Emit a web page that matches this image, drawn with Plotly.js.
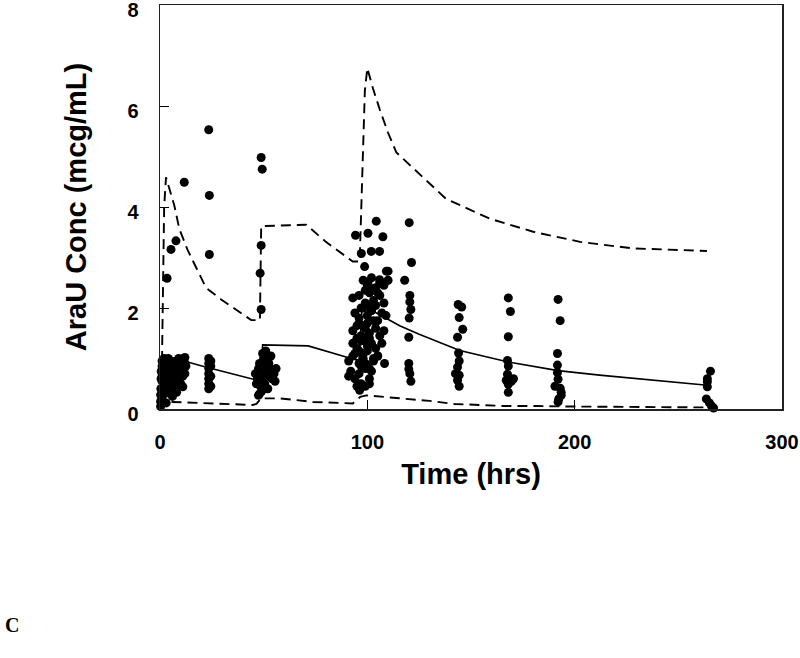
<!DOCTYPE html>
<html>
<head>
<meta charset="utf-8">
<script src="https://cdn.plot.ly/plotly-3.0.1.min.js"></script>
<style>html,body{margin:0;padding:0;background:#fff;}#chart{width:800px;height:658px;}</style>
</head>
<body>
<div id="chart"></div>
<script>
// Observed concentrations (time in hrs, conc in mcg/mL)
const obsTime = [
  // early outliers
  11.7, 23.5, 23.8, 7.7, 5.3, 23.8, 3.4,
  // early low blob
  0.3, 0.3, 0.3, 1, 1, 1, 1, 1, 1, 2, 2, 2, 2, 2, 3, 3, 3, 3, 3, 4, 4, 4, 4,
  5, 5, 5, 5, 6, 6, 6, 6, 7, 7, 7, 8, 8, 8, 8, 10, 10, 10, 11, 11, 11, 11, 12, 12, 12,
  0.5, 1.5, 2.5, 3.5, 4.5, 6.5, 9, 9, 12.5, 0.4, 0.6,
  // 24 h column
  23.5, 23.5, 23.5, 23.5, 23.5, 23.5, 23.5, 24.5, 24.5, 24.5, 24.5,
  // 48 h
  48.8, 49.3, 48.8, 48.3, 48.8,
  48, 48.5, 47, 46, 49, 49.5, 50, 50, 51, 51.5, 52, 52, 53, 53.5, 54, 55, 55.5, 49, 50.5, 48, 46.5, 47.5,
  50, 51, 47.5, 52.5, 49.5, 56,
  // ~100 h outliers
  104.3, 94.3, 100.3, 107.5, 97.1, 101.9, 105.9, 98.7, 110, 100.3, 105.9, 109.2, 108.3, 96.3,
  // ~100 h body
  98, 100, 102, 104, 106, 108, 110,
  93, 96, 99, 101, 103, 106, 108,
  94, 96, 98, 100, 102, 105, 107, 109,
  93, 95, 97, 99, 101, 104, 106, 108,
  93, 95, 97, 100, 102, 104, 107,
  91, 93, 96, 98, 100, 103, 105,
  91, 92, 94, 96, 99, 101, 102,
  95, 97, 99, 101,
  99, 101, 103, 105, 97, 100, 102, 104, 96, 98, 100, 103, 95, 97, 99, 101, 94, 96, 98, 100, 97, 99, 101, 103, 105,
  // 120 h
  120.2, 121.3, 118, 120.5, 120.5, 121, 120.2, 120, 120, 120, 120.5, 121,
  // 144 h
  143.8, 145.5, 144.3, 146, 143.5, 144, 144.3, 143.5, 142.5, 144.3, 143.5, 144.3,
  // 168 h
  168, 169, 168, 167.6, 168, 167.6, 167, 169.5, 170.5, 168, 168,
  // 192 h
  192, 193, 191.7, 191.7, 191.7, 192, 190.5, 193, 193.5, 193.5, 192.3, 192,
  // 264 h
  265.5, 264, 264, 264, 263.5, 265, 266, 267
];
const obsConc = [
  4.49, 5.53, 4.23, 3.33, 3.16, 3.06, 2.59,
  0.05, 0.15, 0.28, 0.2, 0.4, 0.55, 0.7, 0.85, 0.95, 0.3, 0.5, 0.65, 0.8, 1.0, 0.12, 0.35, 0.6, 0.75, 0.9, 0.45, 0.7, 0.85, 1.0,
  0.3, 0.55, 0.8, 0.95, 0.25, 0.6, 0.75, 0.9, 0.4, 0.65, 0.85, 0.33, 0.55, 0.75, 0.95, 0.5, 0.7, 0.85, 0.44, 0.65, 0.8, 0.99, 0.7, 0.9, 1.02,
  0.6, 0.8, 0.9, 0.5, 0.6, 0.5, 0.8, 1.0, 0.85, 0.4, 0.75,
  0.4, 0.5, 0.6, 0.7, 0.8, 0.9, 1.0, 0.45, 0.65, 0.85, 0.95,
  4.98, 4.75, 3.24, 2.69, 1.97,
  0.3, 0.45, 0.6, 0.7, 0.55, 0.75, 0.85, 1.0, 1.15, 0.95, 0.65, 0.4, 0.8, 1.05, 0.6, 0.7, 0.55, 0.35, 0.5, 0.9, 0.5, 0.27,
  0.65, 0.75, 0.8, 0.9, 1.1, 0.8,
  3.72, 3.44, 3.48, 3.41, 3.08, 3.12, 3.12, 2.82, 2.73, 2.5, 2.56, 2.73, 0.9, 0.37,
  2.55, 2.45, 2.6, 2.4, 2.5, 2.45, 2.55,
  2.2, 2.25, 2.1, 2.3, 2.15, 2.25, 2.1,
  1.9, 1.8, 2.0, 1.85, 1.95, 1.75, 1.9, 1.85,
  1.55, 1.65, 1.45, 1.6, 1.5, 1.6, 1.45, 1.55,
  1.3, 1.2, 1.35, 1.15, 1.3, 1.2, 1.3,
  0.95, 1.05, 0.9, 1.0, 0.85, 1.0, 1.05,
  0.65, 0.75, 0.6, 0.7, 0.8, 0.6, 0.75,
  0.45, 0.5, 0.45, 0.5,
  2.35, 2.4, 2.35, 2.3, 2.0, 2.05, 1.95, 2.05, 1.7, 1.65, 1.7, 1.75, 1.4, 1.35, 1.4, 1.4, 1.1, 1.15, 1.1, 1.25, 0.85, 0.9, 0.8, 0.95, 1.05,
  3.69, 2.9, 2.55, 2.25, 2.12, 1.97, 1.8, 1.42, 0.9, 0.79, 0.7, 0.55,
  2.07, 2.02, 1.81, 1.58, 1.42, 1.11, 0.95, 0.83, 0.7, 0.67, 0.57, 0.45,
  2.2, 1.93, 1.43, 0.96, 0.85, 0.69, 0.57, 0.55, 0.6, 0.49, 0.33,
  2.17, 1.75, 1.1, 0.87, 0.72, 0.59, 0.45, 0.41, 0.33, 0.27, 0.2, 0.14,
  0.75, 0.6, 0.54, 0.44, 0.2, 0.12, 0.06, 0.02
];

// Population median prediction
const medTime = [0, 2, 22, 45, 48.5, 49.5, 71.5, 86.6, 93, 96, 97.5, 102.7, 115.6, 125, 144.6, 168, 192, 212, 264];
const medConc = [0, 1.06, 0.83, 0.59, 0.59, 1.27, 1.25, 1.07, 0.99, 0.97, 2.02, 1.94, 1.65, 1.48, 1.16, 0.93, 0.76, 0.67, 0.47];

// 95th percentile prediction
const upTime = [0, 0.7, 2.0, 2.9, 6.9, 9.3, 13.3, 18.2, 22.2, 29.5, 37.5, 44, 48.2, 48.8, 62.5, 70.5, 80, 93, 96.3, 98.8, 100, 102.7, 106, 110, 114, 126.7, 138, 159, 180, 202.6, 228, 263.8];
const upConc = [0, 0.2, 4.0, 4.59, 4.03, 3.57, 3.15, 2.73, 2.40, 2.17, 1.94, 1.76, 1.76, 3.62, 3.64, 3.65, 3.31, 2.92, 2.92, 6.3, 6.75, 6.35, 5.93, 5.47, 5.08, 4.6, 4.16, 3.77, 3.51, 3.31, 3.18, 3.13];

// 5th percentile prediction
const loTime = [0, 2, 5.3, 44.7, 46.5, 48.8, 58, 73.7, 93, 96.6, 99.5, 110.8, 130, 142, 154, 165.5, 181.6, 194.5, 267];
const loConc = [0, 0.15, 0.14, 0.08, 0.1, 0.21, 0.21, 0.14, 0.11, 0.24, 0.27, 0.23, 0.16, 0.10, 0.08, 0.06, 0.06, 0.05, 0.03];

const xTicks = [0, 100, 200, 300];
const yTicks = [0, 2, 4, 6, 8];

const dashStyle = '10px,6px';
const traces = [
  {x: obsTime, y: obsConc, type: 'scatter', mode: 'markers', cliponaxis: false,
   marker: {color: '#000', size: 9, line: {width: 0}}, showlegend: false, hoverinfo: 'x+y'},
  {x: medTime, y: medConc, type: 'scatter', mode: 'lines',
   line: {color: '#000', width: 1.6}, showlegend: false},
  {x: upTime, y: upConc, type: 'scatter', mode: 'lines',
   line: {color: '#000', width: 1.9, dash: dashStyle}, showlegend: false},
  {x: loTime, y: loConc, type: 'scatter', mode: 'lines',
   line: {color: '#000', width: 1.9, dash: dashStyle}, showlegend: false}
];

const boldFont = {family: '"Liberation Sans", Arial, sans-serif', color: '#000', weight: 700};
const layout = {
  width: 800, height: 658,
  margin: {l: 160, r: 18, t: 5, b: 249, pad: 0},
  paper_bgcolor: '#fff', plot_bgcolor: '#fff',
  showlegend: false,
  xaxis: {
    range: [0, 300], tickvals: xTicks, ticktext: xTicks.map(String),
    ticks: 'inside', ticklen: 9, tickwidth: 1, tickcolor: '#000',
    showline: true, mirror: true, linecolor: '#222', linewidth: 1.5,
    showgrid: false, zeroline: false,
    tickfont: Object.assign({size: 20}, boldFont),
    ticklabelstandoff: 14, ticklabeloverflow: 'allow',
    title: {text: 'Time (hrs)', font: Object.assign({size: 29}, boldFont), standoff: 12}
  },
  yaxis: {
    range: [0, 8], tickvals: yTicks, ticktext: yTicks.map(String),
    ticks: 'inside', ticklen: 9, tickwidth: 1, tickcolor: '#000',
    showline: true, mirror: true, linecolor: '#222', linewidth: 1.5,
    showgrid: false, zeroline: false,
    tickfont: Object.assign({size: 20}, boldFont),
    ticklabelstandoff: 16, ticklabelshift: 5, ticklabeloverflow: 'allow',
    title: {text: 'AraU Conc (mcg/mL)', font: Object.assign({size: 29}, boldFont), standoff: 32}
  },
  annotations: [
    {text: 'C', xref: 'paper', yref: 'paper', x: -0.238, y: -0.535, xanchor: 'center', yanchor: 'middle',
     showarrow: false, font: {family: '"Liberation Serif", "Times New Roman", serif', size: 20, color: '#000', weight: 700}}
  ]
};

Plotly.newPlot('chart', traces, layout, {displayModeBar: false, staticPlot: true});
</script>
</body>
</html>
